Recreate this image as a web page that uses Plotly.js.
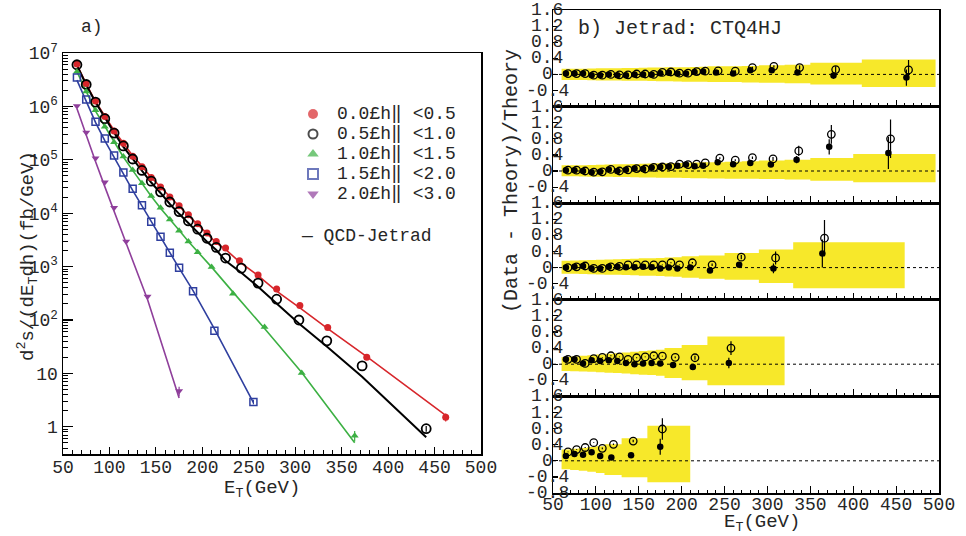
<!DOCTYPE html>
<html><head><meta charset="utf-8">
<script src="https://cdn.plot.ly/plotly-3.0.1.min.js"></script>
<style>html,body{margin:0;padding:0;background:#fff}#chart{width:966px;height:536px}</style>
</head><body><div id="chart"></div>
<script>
// ---------------- data ----------------
const etaLabels = ['0.0£h‖ <0.5','0.5£h‖ <1.0','1.0£h‖ <1.5','1.5£h‖ <2.0','2.0£h‖ <3.0'];
const theoryLabel = '— QCD-Jetrad';
const seriesColors = ['#d7262b','#000000','#3cb043','#2f3f9f','#8f3f9b'];
const seriesSymbols = ['circle','circle-open','triangle-up','square-open','triangle-down'];

// E_T bin centres (GeV)
const et1 = [65,75,85,95,105,115,125,135,145,155,165,175,185,195,205,215,225,240,260,280,305,335,377,462];
const et2 = [65,75,85,95,105,115,125,135,145,155,165,175,185,195,205,215,225,242,260,280,304,334,372,441];
const et3 = [65,75,85,95,105,115,125,135,145,155,165,175,185,195,210,233,267,307,364];
const et4 = [65,75,85,95,105,115,125,135,145,155,165,175,190,213,255];
const et5 = [65,75,85,95,105,118,141,175];

// cross sections (fb/GeV)
const xs1 = [6.2e6,2.69e6,1.26e6,6.46e5,3.47e5,2.04e5,1.17e5,7.4e4,4.68e4,3.09e4,2.0e4,1.38e4,9330,6310,4270,2950,2240,1290,692,380,186,72.4,20,1.51];
const xs2 = [6.03e6,2.57e6,1.2e6,5.89e5,3.16e5,1.82e5,1.035e5,6.31e4,3.98e4,2.51e4,1.62e4,1.07e4,7160,5010,3390,2290,1445,933,490,245,100,40.7,13.8,0.92];
const xs3 = [4.47e6,1.91e6,8.5e5,4.17e5,2.14e5,1.15e5,6.46e4,3.63e4,2.09e4,1.26e4,7590,4680,2950,1860,977,309,74.1,10.2,0.68];
const xs4 = [3.47e6,1.35e6,5.13e5,2.51e5,1.2e5,5.75e4,2.88e4,1.41e4,6920,3630,1820,955,347,63.1,2.92];
const xs5 = [1.02e6,3.24e5,1.07e5,3.8e4,1.26e4,2950,275,4.68];
// relative error of the highest-E_T point of each series
const relErrLastLeft = [0.17,0.12,0.22,0.1,0.2];

// (Data - Theory)/Theory : filled and open points
const ratF1 = [0.02,0.02,0.02,-0.02,-0.02,0,-0.02,-0.02,0,0,-0.01,0.03,0.04,0.02,0.02,0.06,0.07,0.05,0.02,0.10,0.10,0.05,-0.03,-0.08];
const ratO1 = [0.02,0.02,0.02,-0.02,-0.02,0,-0.01,-0.01,0.01,0.01,0,0.05,0.06,0.03,0.03,0.07,0.08,0.09,0.08,0.17,0.20,0.17,0.12,0.11];
const errF1 = [0.01,0.01,0.01,0.01,0.01,0.01,0.01,0.01,0.01,0.01,0.01,0.01,0.01,0.01,0.01,0.01,0.01,0.02,0.02,0.02,0.03,0.04,0.08,0.20];
const errO1 = [0.01,0.01,0.01,0.01,0.01,0.01,0.01,0.01,0.01,0.01,0.01,0.01,0.01,0.01,0.01,0.01,0.01,0.02,0.02,0.02,0.03,0.05,0.08,0.25];

const ratF2 = [0.02,0.02,0,-0.03,-0.02,0.04,0,0.03,0.06,0.05,0.09,0.10,0.11,0.13,0.16,0.12,0.13,0.22,0.17,0.20,0.16,0.28,0.60,0.45];
const ratO2 = [0.02,0.02,0,-0.03,-0.02,0.04,0,0.03,0.06,0.05,0.09,0.10,0.11,0.17,0.16,0.17,0.20,0.32,0.27,0.33,0.30,0.50,0.91,0.80];
const errF2 = [0.01,0.01,0.01,0.01,0.01,0.01,0.01,0.01,0.01,0.01,0.01,0.01,0.01,0.01,0.01,0.01,0.01,0.02,0.02,0.03,0.04,0.09,0.19,0.40];
const errO2 = [0.01,0.01,0.01,0.01,0.01,0.01,0.01,0.01,0.01,0.01,0.01,0.01,0.01,0.01,0.01,0.01,0.01,0.02,0.02,0.03,0.05,0.13,0.23,0.48];

const ratF3 = [0,0.02,0.04,-0.02,-0.02,0.02,0.02,0.01,0.01,0.02,0.01,-0.02,0,-0.02,0,-0.07,0.07,-0.02,0.35];
const ratO3 = [0,0.02,0.04,-0.02,-0.02,0.02,0.03,0.07,0.07,0.07,0.07,0.07,0.12,0.07,0.12,0.07,0.26,0.24,0.73];
const errF3 = [0.01,0.01,0.01,0.01,0.01,0.01,0.01,0.01,0.01,0.01,0.01,0.01,0.01,0.01,0.02,0.03,0.05,0.12,0.35];
const errO3 = [0.01,0.01,0.01,0.01,0.01,0.01,0.01,0.01,0.01,0.01,0.01,0.01,0.01,0.01,0.02,0.03,0.05,0.16,0.45];

const ratF4 = [0.12,0.12,0.02,0.10,0.08,0.10,0.08,0.03,0,0.02,0.03,0.02,-0.02,-0.07,0.03];
const ratO4 = [0.12,0.12,0.02,0.14,0.17,0.21,0.18,0.12,0.16,0.18,0.21,0.20,0.17,0.16,0.40];
const errF4 = [0.01,0.01,0.01,0.01,0.01,0.01,0.01,0.01,0.01,0.01,0.01,0.01,0.02,0.04,0.13];
const errO4 = [0.01,0.01,0.01,0.01,0.01,0.01,0.01,0.01,0.01,0.01,0.01,0.01,0.02,0.05,0.17];

const ratF5 = [0.12,0.17,0.15,0.21,0.12,0.08,0.14,0.35];
const ratO5 = [0.22,0.28,0.33,0.45,0.31,0.41,0.49,0.79];
const errF5 = [0.01,0.01,0.01,0.01,0.02,0.02,0.03,0.20];
const errO5 = [0.01,0.01,0.01,0.01,0.02,0.02,0.03,0.27];

// systematic uncertainty bands (bin edges, upper, lower)
const bandE1 = [60,70,80,90,100,110,120,130,140,150,160,170,180,190,200,210,220,230,250,270,290,320,350,410,496];
const bandU1 = [0.14,0.14,0.14,0.145,0.15,0.15,0.155,0.16,0.16,0.165,0.17,0.17,0.175,0.18,0.18,0.185,0.19,0.20,0.20,0.21,0.23,0.24,0.29,0.37];
const bandL1 = [-0.14,-0.14,-0.14,-0.145,-0.15,-0.15,-0.15,-0.155,-0.16,-0.16,-0.165,-0.17,-0.17,-0.175,-0.18,-0.18,-0.185,-0.19,-0.19,-0.20,-0.21,-0.22,-0.25,-0.31];
const bandE2 = [60,70,80,90,100,110,120,130,140,150,160,170,180,190,200,210,220,230,250,270,290,320,350,400,496];
const bandU2 = [0.14,0.14,0.145,0.15,0.155,0.16,0.165,0.17,0.175,0.18,0.185,0.19,0.195,0.20,0.205,0.21,0.215,0.22,0.23,0.24,0.26,0.28,0.32,0.42];
const bandL2 = [-0.13,-0.13,-0.135,-0.14,-0.14,-0.145,-0.15,-0.15,-0.155,-0.16,-0.16,-0.165,-0.17,-0.17,-0.175,-0.18,-0.18,-0.185,-0.19,-0.19,-0.20,-0.21,-0.24,-0.28];
const bandE3 = [60,70,80,90,100,110,120,130,140,150,160,170,180,190,200,220,250,290,330,460];
const bandU3 = [0.17,0.175,0.18,0.19,0.195,0.20,0.21,0.215,0.22,0.23,0.235,0.24,0.25,0.26,0.28,0.30,0.36,0.45,0.63];
const bandL3 = [-0.15,-0.155,-0.16,-0.165,-0.17,-0.175,-0.18,-0.185,-0.19,-0.20,-0.205,-0.21,-0.22,-0.23,-0.25,-0.28,-0.30,-0.38,-0.51];
const bandE4 = [60,70,80,90,100,110,120,130,140,150,160,170,180,200,230,320];
const bandU4 = [0.18,0.19,0.21,0.22,0.24,0.26,0.27,0.29,0.31,0.33,0.34,0.36,0.40,0.48,0.69];
const bandL4 = [-0.17,-0.175,-0.18,-0.19,-0.20,-0.21,-0.22,-0.23,-0.25,-0.26,-0.27,-0.29,-0.34,-0.40,-0.52];
const bandE5 = [60,70,80,90,100,110,130,160,210];
const bandU5 = [0.28,0.30,0.32,0.34,0.36,0.41,0.56,0.87];
const bandL5 = [-0.21,-0.23,-0.25,-0.27,-0.30,-0.35,-0.41,-0.53];

// tick labels
const logTickVals = [1,10,100,1e3,1e4,1e5,1e6,1e7];
const logTickText = ['1','10','10<sup>2</sup>','10<sup>3</sup>','10<sup>4</sup>','10<sup>5</sup>','10<sup>6</sup>','10<sup>7</sup>'];
const ratioTickVals = [-0.8,-0.4,0,0.4,0.8,1.2,1.6];
const ratioTickText = ['-0.8','-0.4','0','0.4','0.8','1.2','1.6'];
const etTickVals = [50,100,150,200,250,300,350,400,450,500];

// ---------------- build ----------------
const W = 966, H = 536;
const px = v => v / W, py = v => 1 - v / H;
const MONO = 'Liberation Mono, DejaVu Sans Mono, monospace';
const TXT = '#262626';

const ets = [et1,et2,et3,et4,et5];
const xss = [xs1,xs2,xs3,xs4,xs5];
const ratFs = [ratF1,ratF2,ratF3,ratF4,ratF5];
const ratOs = [ratO1,ratO2,ratO3,ratO4,ratO5];
const errFs = [errF1,errF2,errF3,errF4,errF5];
const errOs = [errO1,errO2,errO3,errO4,errO5];
const bandEs = [bandE1,bandE2,bandE3,bandE4,bandE5];
const bandUs = [bandU1,bandU2,bandU3,bandU4,bandU5];
const bandLs = [bandL1,bandL2,bandL3,bandL4,bandL5];

const mSize = [7,9,7,7,7];
const mLine = [0,1.8,0,1.5,0];

const traces = [];
// left panel: theory curves (data / (1 + ratio))
for (let k = 0; k < 5; k++) {
  traces.push({
    x: ets[k], y: xss[k].map((v,i) => v / (1 + ratFs[k][i])),
    xaxis:'x', yaxis:'y', mode:'lines', showlegend:false, hoverinfo:'skip',
    line:{color:seriesColors[k], width: k===1 ? 2 : 1.6}
  });
}
// left panel: data points
for (let k = 0; k < 5; k++) {
  const n = xss[k].length;
  traces.push({
    x: ets[k], y: xss[k], xaxis:'x', yaxis:'y', mode:'markers', showlegend:false,
    marker:{symbol:seriesSymbols[k], size:mSize[k], color:seriesColors[k],
            line:{color:seriesColors[k], width:mLine[k]}},
    error_y:{type:'data', array: xss[k].map((v,i) => i === n-1 ? v*relErrLastLeft[k] : 0),
             color:seriesColors[k], thickness:1.2, width:0}
  });
}
// right panels
const panelTop = [10,106.6,203.2,299.8,396.4,493];
for (let k = 0; k < 5; k++) {
  const ax = 'x' + (k+2), ay = 'y' + (k+2);
  const E = bandEs[k];
  const lo = bandLs[k].concat([bandLs[k][bandLs[k].length-1]]);
  const up = bandUs[k].concat([bandUs[k][bandUs[k].length-1]]);
  traces.push({x:E, y:lo, xaxis:ax, yaxis:ay, mode:'lines', line:{width:0, shape:'hv', color:'rgba(0,0,0,0)'}, showlegend:false, hoverinfo:'skip'});
  traces.push({x:E, y:up, xaxis:ax, yaxis:ay, mode:'lines', line:{width:0, shape:'hv', color:'rgba(0,0,0,0)'}, fill:'tonexty', fillcolor:'#f7e82a', showlegend:false, hoverinfo:'skip'});
  traces.push({x:ets[k].map(e => e + 2.5), y:ratOs[k], xaxis:ax, yaxis:ay, mode:'markers', showlegend:false,
    marker:{symbol:'circle-open', size:7.5, color:'#000', line:{width:1.3, color:'#000'}},
    error_y:{type:'data', array:errOs[k], color:'#000', thickness:1.2, width:0}});
  traces.push({x:ets[k], y:ratFs[k], xaxis:ax, yaxis:ay, mode:'markers', showlegend:false,
    marker:{symbol:'circle', size:6.5, color:'#000'},
    error_y:{type:'data', array:errFs[k], color:'#000', thickness:1.2, width:0}});
}
// custom legend (marker column on its own hidden axis)
traces.push({
  x: etaLabels.map(() => 13), y: etaLabels.map((_, i) => i), xaxis:'x7', yaxis:'y7',
  mode:'markers', showlegend:false, hoverinfo:'skip',
  marker:{symbol:seriesSymbols, size:[10,9,10,10,10], color:seriesColors,
          line:{color:seriesColors, width:[0,2,0,2,0]}}
});

const axCommon = {showline:true, mirror:true, linecolor:'#000', linewidth:1.5, showgrid:false, zeroline:false,
  ticks:'inside', tickcolor:'#000', tickwidth:1.2};
const tickFont = {family:MONO, size:18, color:TXT};

const layout = {
  width:W, height:H, margin:{l:0,r:0,t:0,b:0,pad:0},
  paper_bgcolor:'#fff', plot_bgcolor:'rgba(0,0,0,0)', showlegend:false,
  xaxis: Object.assign({}, axCommon, {domain:[px(63),px(481)], anchor:'y', range:[50,500],
    tickmode:'array', tickvals:etTickVals, ticklen:7, tickfont:tickFont, ticklabelstandoff:-4,
    minor:{dtick:10, tick0:50, ticks:'inside', ticklen:4, tickcolor:'#000', tickwidth:1}}),
  yaxis: Object.assign({}, axCommon, {domain:[py(454),py(53)], anchor:'x', type:'log', range:[-0.51,7],
    tickmode:'array', tickvals:logTickVals, ticktext:logTickText, ticklen:10, tickfont:{family:MONO, size:18, color:TXT},
    minor:{tickmode:'array', tickvals:[0.4,0.5,0.6,0.7,0.8,0.9].concat(...[0,1,2,3,4,5,6].map(p => [2,3,4,5,6,7,8,9].map(d => d*Math.pow(10,p)))),
           ticks:'inside', ticklen:5, tickcolor:'#000', tickwidth:1}}),
  xaxis7:{domain:[px(300),px(480)], anchor:'y7', range:[0,180], visible:false},
  yaxis7:{domain:[py(204),py(104)], anchor:'x7', range:[4.5,-0.5], visible:false},
  annotations:[], shapes:[]
};

for (let k = 0; k < 5; k++) {
  const n = k + 2;
  layout['xaxis'+n] = Object.assign({}, axCommon, {domain:[px(553),px(939)], anchor:'y'+n, range:[50,500],
    tickmode:'array', tickvals:etTickVals, ticklen:7, showticklabels:k===4, tickfont:tickFont, ticklabelstandoff:-6,
    minor:{dtick:10, tick0:50, ticks:'inside', ticklen:3.5, tickcolor:'#000', tickwidth:1}});
  layout['yaxis'+n] = Object.assign({}, axCommon, {domain:[py(panelTop[k+1]), py(panelTop[k])], anchor:'x'+n,
    range:[-0.8,1.6], tickmode:'array', tickvals:ratioTickVals, ticklen:5, showticklabels:false});
  layout.shapes.push({type:'line', xref:'x'+n+' domain', x0:0, x1:1, yref:'y'+n, y0:0, y1:0,
    line:{color:'#000', width:1, dash:'dot'}, layer:'above'});
  ratioTickVals.forEach((t, i) => {
    // the lowest label of an upper panel sits under the next panel's top label
    if (k < 4 && i === 0) return;
    layout.annotations.push({
      xref:'paper', x:px(547), yref:'y'+n, y:t, text:ratioTickText[i], showarrow:false,
      xanchor:'center', yanchor:'middle', font:{family:MONO, size:18, color:TXT}});
  });
}

// legend texts
etaLabels.forEach((lab, i) => layout.annotations.push({xref:'x7', yref:'y7', x:35, y:i, text:lab,
  showarrow:false, xanchor:'left', yanchor:'middle', font:{family:MONO, size:18, color:TXT}}));
layout.annotations.push({xref:'paper', yref:'paper', x:px(299), y:py(236), text:theoryLabel, showarrow:false,
  xanchor:'left', yanchor:'middle', font:{family:MONO, size:18, color:TXT}});

// titles and axis labels
layout.annotations.push(
  {xref:'paper', yref:'paper', x:px(79), y:py(27), text:'a)', showarrow:false, xanchor:'left', yanchor:'middle', font:{family:MONO, size:18, color:TXT}},
  {xref:'paper', yref:'paper', x:px(576), y:py(28), text:'b) Jetrad: CTQ4HJ', showarrow:false, xanchor:'left', yanchor:'middle', font:{family:MONO, size:20, color:TXT}},
  {xref:'paper', yref:'paper', x:px(27), y:py(256), text:'d<sup>2</sup>s/(dE<sub>T</sub>dh)(fb/GeV)', textangle:-90, showarrow:false, xanchor:'center', yanchor:'middle', font:{family:MONO, size:19, color:TXT}},
  {xref:'paper', yref:'paper', x:px(511), y:py(181), text:'(Data - Theory)/Theory', textangle:-90, showarrow:false, xanchor:'center', yanchor:'middle', font:{family:MONO, size:20, color:TXT}},
  {xref:'paper', yref:'paper', x:px(262), y:py(489), text:'E<sub>T</sub>(GeV)', showarrow:false, xanchor:'center', yanchor:'middle', font:{family:MONO, size:19, color:TXT}},
  {xref:'paper', yref:'paper', x:px(762), y:py(523), text:'E<sub>T</sub>(GeV)', showarrow:false, xanchor:'center', yanchor:'middle', font:{family:MONO, size:19, color:TXT}}
);

Plotly.newPlot('chart', traces, layout, {displayModeBar:false, staticPlot:true});
</script>
</body></html>
